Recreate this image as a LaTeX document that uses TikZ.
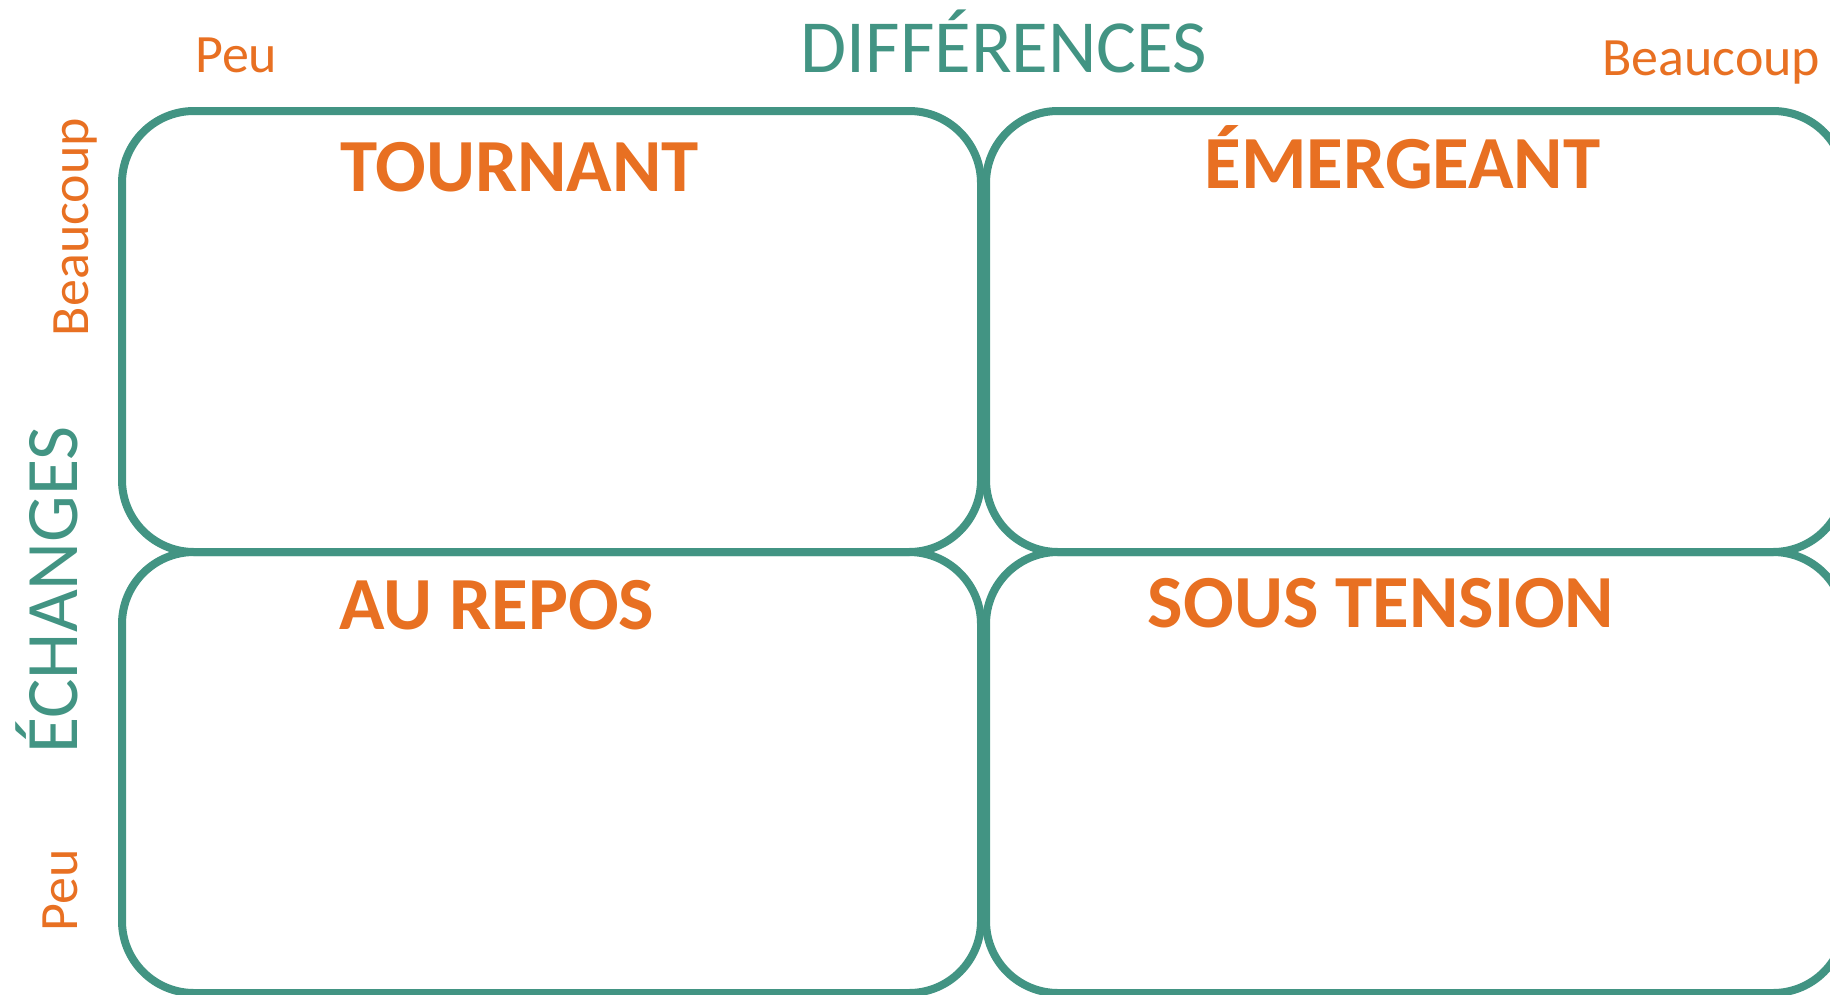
\documentclass[tikz,border=0pt]{standalone}
\usepackage{fontspec}
\setmainfont{Carlito}
\definecolor{teal1}{HTML}{429483}
\definecolor{orng}{HTML}{E87022}
\begin{document}
\begin{tikzpicture}[x=1pt,y=-1pt,
  quad/.style={draw=teal1, line width=8pt, rounded corners=72pt, minimum width=859pt, minimum height=441pt, inner sep=0pt, outer sep=0pt, anchor=north west},
  title/.style={text=orng, font=\fontsize{75}{80}\selectfont\bfseries, inner sep=0pt, anchor=base},
  axis/.style={text=teal1, inner sep=0pt},
  small/.style={text=orng, font=\fontsize{54}{60}\selectfont, inner sep=0pt}]
\useasboundingbox (0,0) rectangle (1830,994);
\begin{scope}
\clip (0,0) rectangle (1830,994);
\node[quad] (tl) at (122,111) {};
\node[quad] (tr) at (986,111) {};
\node[quad] (bl) at (122,552) {};
\node[quad] (br) at (986,552) {};
\end{scope}
\node[title] (t1) at (519.5,191) {TOURNANT};
\node[title] (t2) at (1402.5,188) {ÉMERGEANT};
\node[title] (t3) at (497,629) {AU REPOS};
\node[title] (t4) at (1381,627) {SOUS TENSION};
\node[axis, font=\fontsize{75}{80}\selectfont, anchor=base] (dif) at (1004,72) {DIFFÉRENCES};
\node[axis, font=\fontsize{74}{80}\selectfont, anchor=base, rotate=90] (ech) at (77,590) {ÉCHANGES};
\node[small, anchor=base west] (peuT) at (195,72) {Peu};
\node[small, anchor=base west] (beauT) at (1602,75) {Beaucoup};
\node[small, anchor=base, rotate=90] (beauL) at (88,227) {Beaucoup};
\node[small, anchor=base, rotate=90] (peuL) at (77,890.5) {Peu};
\end{tikzpicture}
\end{document}
